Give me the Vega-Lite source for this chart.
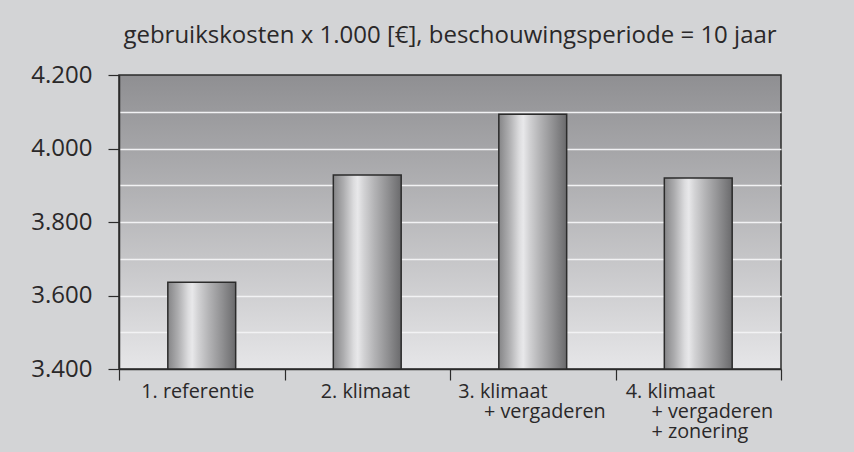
{
  "$schema": "https://vega.github.io/schema/vega-lite/v6.json",
  "width": 662,
  "height": 294,
  "autosize": {"type": "none"},
  "padding": {"left": 119, "top": 75, "right": 73, "bottom": 83},
  "background": "#d3d4d6",
  "title": {
    "text": "gebruikskosten x 1.000 [€], beschouwingsperiode = 10 jaar",
    "font": "Open Sans",
    "fontSize": 24,
    "fontWeight": "normal",
    "color": "#2a2829",
    "anchor": "middle",
    "frame": "group",
    "baseline": "alphabetic",
    "offset": -4
  },
  "data": {
    "values": [
      {"k": "1", "label": "1. referentie", "v": 3636},
      {"k": "2", "label": "2. klimaat", "v": 3928},
      {"k": "3", "label": "3. klimaat + vergaderen", "v": 4093},
      {"k": "4", "label": "4. klimaat + vergaderen + zonering", "v": 3920}
    ]
  },
  "mark": {
    "type": "bar",
    "width": {"band": 0.41},
    "stroke": "#2b2b2b",
    "strokeWidth": 1.5,
    "fill": {
      "gradient": "linear",
      "x1": 0, "x2": 1, "y1": 0, "y2": 0,
      "stops": [
        {"offset": 0, "color": "#858587"},
        {"offset": 0.15, "color": "#adadaf"},
        {"offset": 0.3, "color": "#dcdcde"},
        {"offset": 0.36, "color": "#e8e8ea"},
        {"offset": 0.45, "color": "#d2d2d4"},
        {"offset": 0.6, "color": "#b4b4b6"},
        {"offset": 0.8, "color": "#909092"},
        {"offset": 1, "color": "#6a6a6c"}
      ]
    }
  },
  "encoding": {
    "x": {
      "field": "k",
      "type": "nominal",
      "sort": null,
      "scale": {"paddingInner": 0, "paddingOuter": 0},
      "axis": {
        "title": null,
        "tickBand": "extent",
        "tickSize": 11,
        "tickColor": "#2b2b2b",
        "tickWidth": 1.2,
        "domainColor": "#2b2b2b",
        "domainWidth": 1.5,
        "labelAngle": 0,
        "labelFont": "Open Sans",
        "labelFontWeight": "normal",
        "labelFontSize": 19.8,
        "labelColor": "#2a2829",
        "labelLineHeight": 20,
        "labelAlign": "left",
        "labelBaseline": "alphabetic",
        "labelPadding": 17,
        "labelOffset": {"expr": "datum.value === '1' ? -61 : datum.value === '2' ? -47 : datum.value === '3' ? -75 : -73"},
        "labelExpr": "datum.value === '1' ? '1. referentie' : datum.value === '2' ? '2. klimaat' : datum.value === '3' ? ['3. klimaat', '\u200b\u00a0\u00a0\u00a0\u00a0\u00a0+ vergaderen'] : datum.value === '4' ? ['4. klimaat', '\u200b\u00a0\u00a0\u00a0\u00a0\u00a0+ vergaderen', '\u200b\u00a0\u00a0\u00a0\u00a0\u00a0+ zonering'] : ''"
      }
    },
    "y": {
      "field": "v",
      "type": "quantitative",
      "scale": {"domain": [3400, 4200], "nice": false, "zero": false},
      "axis": {
        "title": null,
        "values": [3400, 3500, 3600, 3700, 3800, 3900, 4000, 4100, 4200],
        "labelExpr": "datum.value % 200 === 0 ? replace(format(datum.value, ','), ',', '.') : ''",
        "tickOpacity": {"expr": "datum.value % 200 === 0 ? 1 : 0"},
        "tickSize": 11,
        "tickColor": "#2b2b2b",
        "tickWidth": 1.2,
        "domainColor": "#2b2b2b",
        "domainWidth": 1.5,
        "grid": true,
        "gridColor": "#f2f2f4",
        "gridWidth": 1.5,
        "gridOpacity": {"expr": "datum.value > 3400 && datum.value < 4200 ? 1 : 0"},
        "labelFont": "Open Sans",
        "labelFontWeight": "normal",
        "labelFontSize": 24,
        "labelColor": "#2a2829",
        "labelPadding": 16
      }
    },
    "y2": {"datum": 3400}
  },
  "config": {
    "view": {
      "stroke": "#2b2b2b",
      "strokeWidth": 1.5,
      "fill": {
        "gradient": "linear",
        "x1": 0, "x2": 0, "y1": 0, "y2": 1,
        "stops": [
          {"offset": 0, "color": "#8f8f92"},
          {"offset": 1, "color": "#e6e6e8"}
        ]
      }
    }
  }
}
